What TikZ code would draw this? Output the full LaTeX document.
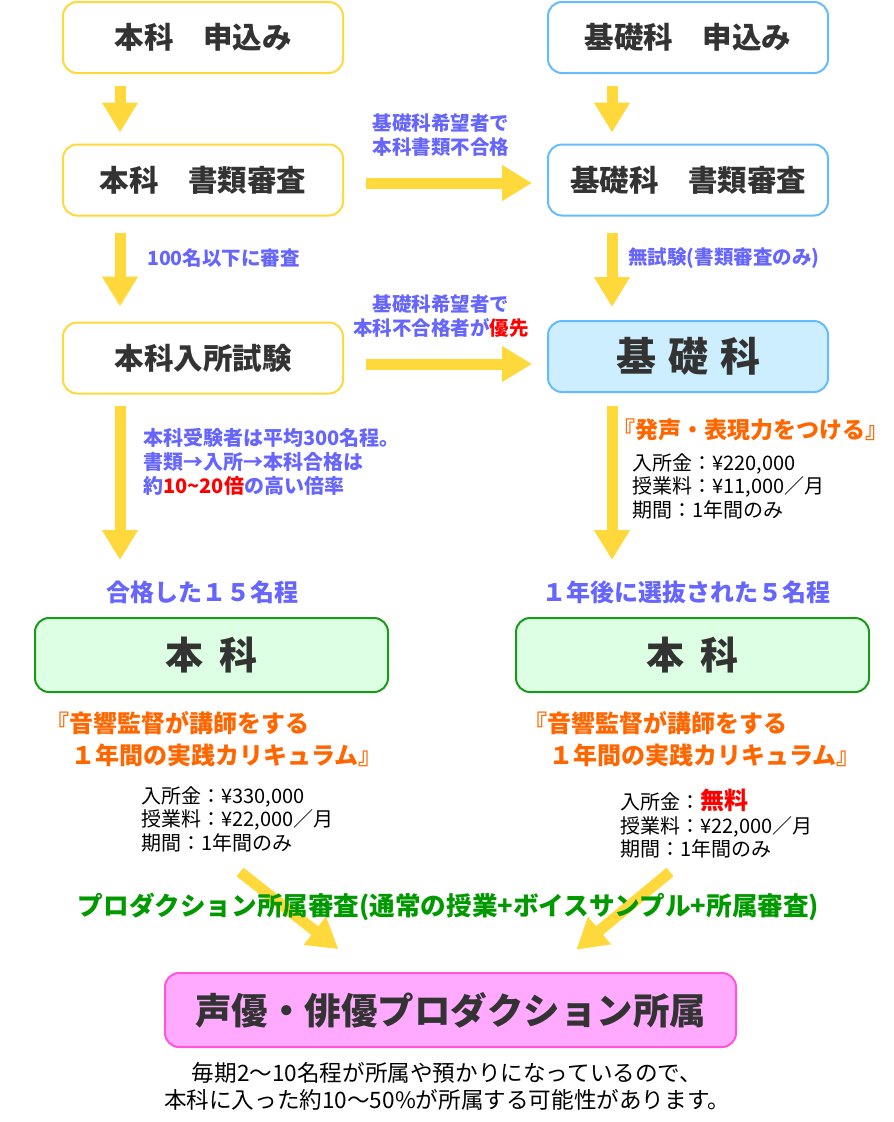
\documentclass[tikz,border=0pt]{standalone}
\usepackage{fontspec}
\setmainfont{Noto Sans CJK JP}
\usepackage{xcolor}
\usetikzlibrary{arrows.meta}

\definecolor{arrowyellow}{HTML}{FFD83C}
\definecolor{kisoblue}{HTML}{66BBFF}
\definecolor{kisofill}{HTML}{CCEEFF}
\definecolor{textgray}{HTML}{333333}
\definecolor{noteblue}{HTML}{6666FF}
\definecolor{quoteorange}{HTML}{FF6600}
\definecolor{alertred}{HTML}{FF0000}
\definecolor{honkagreen}{HTML}{1A9A1A}
\definecolor{honkafill}{HTML}{DDFFE3}
\definecolor{prodpink}{HTML}{FF55DD}
\definecolor{prodfill}{HTML}{FFAAFF}
\definecolor{prodgreen}{HTML}{009900}

\begin{document}
\begin{tikzpicture}[x=1pt,y=-1pt,
        box/.style={draw, rounded corners=14pt, line width=2pt, minimum width=280pt,
            minimum height=71pt, text=textgray, font=\fontsize{29.5}{32}\selectfont\bfseries},
        honbox/.style={box, draw=arrowyellow, fill=white},
        kisobox/.style={box, draw=kisoblue, fill=white},
        honkabox/.style={box, draw=honkagreen, fill=honkafill, minimum width=353pt,
            minimum height=74pt, font=\fontsize{38}{40}\selectfont\bfseries},
        prodbox/.style={box, draw=prodpink, fill=prodfill, minimum width=571pt,
            minimum height=74pt, font=\fontsize{36.5}{40}\selectfont\bfseries},
        bigarrow/.style={draw=arrowyellow, line width=11pt, -{Triangle[width=34pt,length=30pt]}},
        note/.style={text=noteblue, inner sep=0pt, font=\fontsize{19.5}{24.5}\selectfont\bfseries},
        count/.style={text=noteblue, inner sep=0pt, font=\fontsize{24}{28}\selectfont\bfseries},
        quote/.style={text=quoteorange, inner sep=0pt, align=left, font=\fontsize{24}{32}\selectfont\bfseries},
        fee/.style={text=black, inner sep=0pt, align=left, font=\fontsize{20}{23.5}\selectfont},
    ]
        \fill[white] (0,0) rectangle (894,1122);
        \useasboundingbox (0,0) rectangle (894,1122);

        % 本科 column
        \node[honbox] (honapp) at (203,37.5) {本科　申込み};
        \node[honbox] (honsho) at (203,180) {本科　書類審査};
        \node[honbox] (honexam) at (203,358) {本科入所試験};

        % 基礎科 column
        \node[kisobox] (kisoapp) at (688,37.5) {基礎科　申込み};
        \node[kisobox] (kisosho) at (688,180) {基礎科　書類審査};
        \node[kisobox, fill=kisofill, font=\fontsize{40}{44}\selectfont\bfseries] (kiso) at (688,356.5)
            {基\hspace{12pt}礎\hspace{12pt}科};

        % arrows down
        \draw[bigarrow, shorten <=12pt, shorten >=11pt] ([xshift=-83pt]honapp.south) -- ([xshift=-83pt]honsho.north);
        \draw[bigarrow, shorten <=16pt, shorten >=15pt] ([xshift=-83pt]honsho.south) -- ([xshift=-83pt]honexam.north);
        \draw[bigarrow, shorten <=12pt, shorten >=11pt] ([xshift=-76pt]kisoapp.south) -- ([xshift=-76pt]kisosho.north);
        \draw[bigarrow, shorten <=16pt, shorten >=13pt] ([xshift=-76pt]kisosho.south) -- ([xshift=-76pt]kiso.north);
        \coordinate (honend) at (120,560);
        \coordinate (kisoend) at (612,560);
        \draw[bigarrow, shorten <=11pt] ([xshift=-83pt]honexam.south) -- (honend);
        \draw[bigarrow, shorten <=13pt] ([xshift=-76pt]kiso.south) -- (kisoend);

        % arrows across
        \draw[bigarrow, shorten <=22pt, shorten >=15pt] ([yshift=-3pt]honsho.east) -- ([yshift=-3pt]kisosho.west);
        \draw[bigarrow, shorten <=22pt, shorten >=15pt] ([yshift=-6pt]honexam.east) -- ([yshift=-6pt]honexam.east -| kiso.west);

        % notes
        \node[note, align=center] (notesho) at (441,135) {基礎科希望者で\\本科書類不合格};
        \node[note, anchor=west] (note100) at (147,258) {100名以下に審査};
        \node[note, anchor=west] (notemu) at (628,258) {無試験(書類審査のみ)};
        \node[note, align=center] (noteexam) at (441,316) {基礎科希望者で\\本科不合格者が\textcolor{alertred}{優先}};
        \node[note, anchor=west, align=left, font=\fontsize{20}{24}\selectfont\bfseries] (noterate) at (143,462)
            {本科受験者は平均300名程。\\書類→入所→本科合格は\\約\textcolor{alertred}{10\textasciitilde20倍}の高い倍率};

        % 基礎科 contents
        \node[quote, anchor=west, font=\fontsize{23}{28}\selectfont\bfseries] (kisoquote) at (612,430) {『発声・表現力をつける』};
        \node[fee, anchor=west] (kisofee) at (632,486) {入所金：¥220,000\\授業料：¥11,000／月\\期間：1年間のみ};

        % 本科
        \node[count] (honcount) at (202,592) {合格した１５名程};
        \node[count] (kisocount) at (686,592) {１年後に選抜された５名程};
        \node[honkabox] (honka) at (211.5,655) {本\hspace{16pt}科};
        \node[honkabox] (honkakiso) at (692.5,655) {本\hspace{16pt}科};
        \node[quote, anchor=west] (honquote) at (45,739) {『音響監督が講師をする\\\hspace*{26pt}１年間の実践カリキュラム』};
        \node[quote, anchor=west] (kisoquote2) at (523,739) {『音響監督が講師をする\\\hspace*{26pt}１年間の実践カリキュラム』};
        \node[fee, anchor=west] (honfee) at (141,819) {入所金：¥330,000\\授業料：¥22,000／月\\期間：1年間のみ};
        \node[fee, anchor=west] (kisofee2) at (620,824)
            {入所金：{\color{alertred}\bfseries\fontsize{24}{24}\selectfont 無料}\\授業料：¥22,000／月\\期間：1年間のみ};

        % プロダクション
        \node[prodbox] (prod) at (450.5,1010) {声優・俳優プロダクション所属};
        \coordinate (honstart) at (240,872);
        \coordinate (kisostart) at (670,872);
        \draw[bigarrow, shorten >=37pt] (honstart) -- ([xshift=-83pt]prod.north);
        \draw[bigarrow, shorten >=35pt] (kisostart) -- ([xshift=99pt]prod.north);
        \node[text=prodgreen, inner sep=0pt, font=\fontsize{25.6}{28}\selectfont\bfseries] (prodnote) at (448.5,907)
            {プロダクション所属審査(通常の授業+ボイスサンプル+所属審査)};
        \node[fee, align=center, font=\fontsize{22.6}{27}\selectfont] (closing) at (447,1086.5)
            {毎期2〜10名程が所属や預かりになっているので、\\本科に入った約10〜50\%が所属する可能性があります。};
    \end{tikzpicture}
\end{document}
